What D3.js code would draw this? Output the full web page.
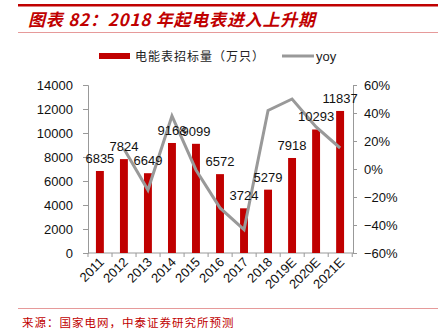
<!DOCTYPE html>
<html><head><meta charset="utf-8">
<script src="https://cdn.jsdelivr.net/npm/d3@7"></script>
<style>body{margin:0;background:#fff}svg{display:block}</style>
</head><body><svg id="c" width="444" height="332"></svg>
<script>
const categories = ["2011","2012","2013","2014","2015","2016","2017","2018","2019E","2020E","2021E"];
const volumes = [6835,7824,6649,9168,9099,6572,3724,5279,7918,10293,11837];
const yoy = [null,0.145,-0.150,0.379,-0.007,-0.278,-0.433,0.418,0.500,0.300,0.150];
const leftTicks = [0,2000,4000,6000,8000,10000,12000,14000];
const rightTicks = [-0.6,-0.4,-0.2,0,0.2,0.4,0.6];

const svg = d3.select("#c");
const red = "#c00000", gray = "#999999";
const font = "'Liberation Sans', Arial, sans-serif";
const cjk = "'Noto Sans CJK SC', sans-serif";

// header
svg.append("rect").attr("x",18).attr("y",4).attr("width",420).attr("height",2.5).attr("fill",red);
svg.append("text").attr("x",28).attr("y",26).attr("fill",red)
  .style("font-family",cjk).style("font-size","17px").style("font-weight","bold").style("font-style","italic")
  .style("letter-spacing","0.8px")
  .text("图表 82：2018 年起电表进入上升期");
svg.append("line").attr("x1",18).attr("x2",438).attr("y1",32.5).attr("y2",32.5).attr("stroke","#e08080").attr("stroke-width",0.8);

// legend
svg.append("rect").attr("x",99).attr("y",53).attr("width",31).attr("height",6).attr("fill",red);
svg.append("text").attr("x",135).attr("y",60.5).style("font-family",cjk).style("font-size","12px").attr("fill","#222")
  .style("letter-spacing","1px").text("电能表招标量（万只）");
svg.append("line").attr("x1",282).attr("x2",314).attr("y1",56).attr("y2",56).attr("stroke",gray).attr("stroke-width",3);
svg.append("text").attr("x",316).attr("y",61).style("font-family",font).style("font-size","13px").attr("fill","#222").text("yoy");

const x = d3.scaleBand().domain(categories).range([88,352]).paddingInner(0.67).paddingOuter(0.33);
const yL = d3.scaleLinear().domain([0,14000]).range([253,85]);
const yR = d3.scaleLinear().domain([-0.6,0.6]).range([253,85]);

const styleAxis = g => {
  g.selectAll(".domain").attr("stroke","#999");
  g.selectAll(".tick line").attr("stroke","#999");
  g.selectAll("text").style("font-family",font).style("font-size","13px").attr("fill","#111");
};

svg.append("g").attr("transform","translate(88,0)")
  .call(d3.axisLeft(yL).tickValues(leftTicks).tickSizeOuter(0).tickSize(5).tickPadding(10).tickFormat(d3.format("d")))
  .call(styleAxis);
svg.append("g").attr("transform","translate(353,0)")
  .call(d3.axisRight(yR).tickValues(rightTicks).tickSizeOuter(0).tickSize(4).tickPadding(7).tickFormat(d3.format(".0%")))
  .call(styleAxis);

// x axis with boundary ticks
const xg = svg.append("g").attr("transform","translate(0,253)");
xg.append("line").attr("x1",88).attr("x2",353).attr("stroke","#999");
d3.range(categories.length+1).forEach(i=>{
  const xx = 88 + i*x.step();
  xg.append("line").attr("x1",xx).attr("x2",xx).attr("y1",0).attr("y2",4).attr("stroke","#999");
});
categories.forEach(c=>{
  const cx = x(c)+x.bandwidth()/2;
  xg.append("text").attr("text-anchor","end")
    .attr("transform",`translate(${cx+5},${10}) rotate(-45)`)
    .style("font-family",font).style("font-size","13px").attr("fill","#111").text(c);
});

// bars
svg.append("g").selectAll("rect").data(categories).join("rect")
  .attr("x",d=>x(d)).attr("width",x.bandwidth())
  .attr("y",(d,i)=>yL(volumes[i])).attr("height",(d,i)=>253-yL(volumes[i]))
  .attr("fill",red);

// line
const line = d3.line().defined(d=>d.v!==null).x(d=>x(d.c)+x.bandwidth()/2).y(d=>yR(d.v));
svg.append("path").datum(categories.map((c,i)=>({c,v:yoy[i]})))
  .attr("d",line).attr("fill","none").attr("stroke",gray).attr("stroke-width",3).attr("stroke-linejoin","miter");

// labels
svg.append("g").selectAll("text").data(categories).join("text")
  .attr("x",d=>x(d)+x.bandwidth()/2).attr("y",(d,i)=>yL(volumes[i])-8)
  .attr("text-anchor","middle").style("font-family",font).style("font-size","13px").attr("fill","#111")
  .text((d,i)=>volumes[i]);

// footer
svg.append("line").attr("x1",18).attr("x2",438).attr("y1",308.5).attr("y2",308.5).attr("stroke","#e08080").attr("stroke-width",0.8);
svg.append("text").attr("x",22).attr("y",327).attr("fill",red).style("font-family",cjk).style("font-size","11.5px")
  .style("letter-spacing","1px")
  .text("来源：国家电网，中泰证券研究所预测");
</script></body></html>
